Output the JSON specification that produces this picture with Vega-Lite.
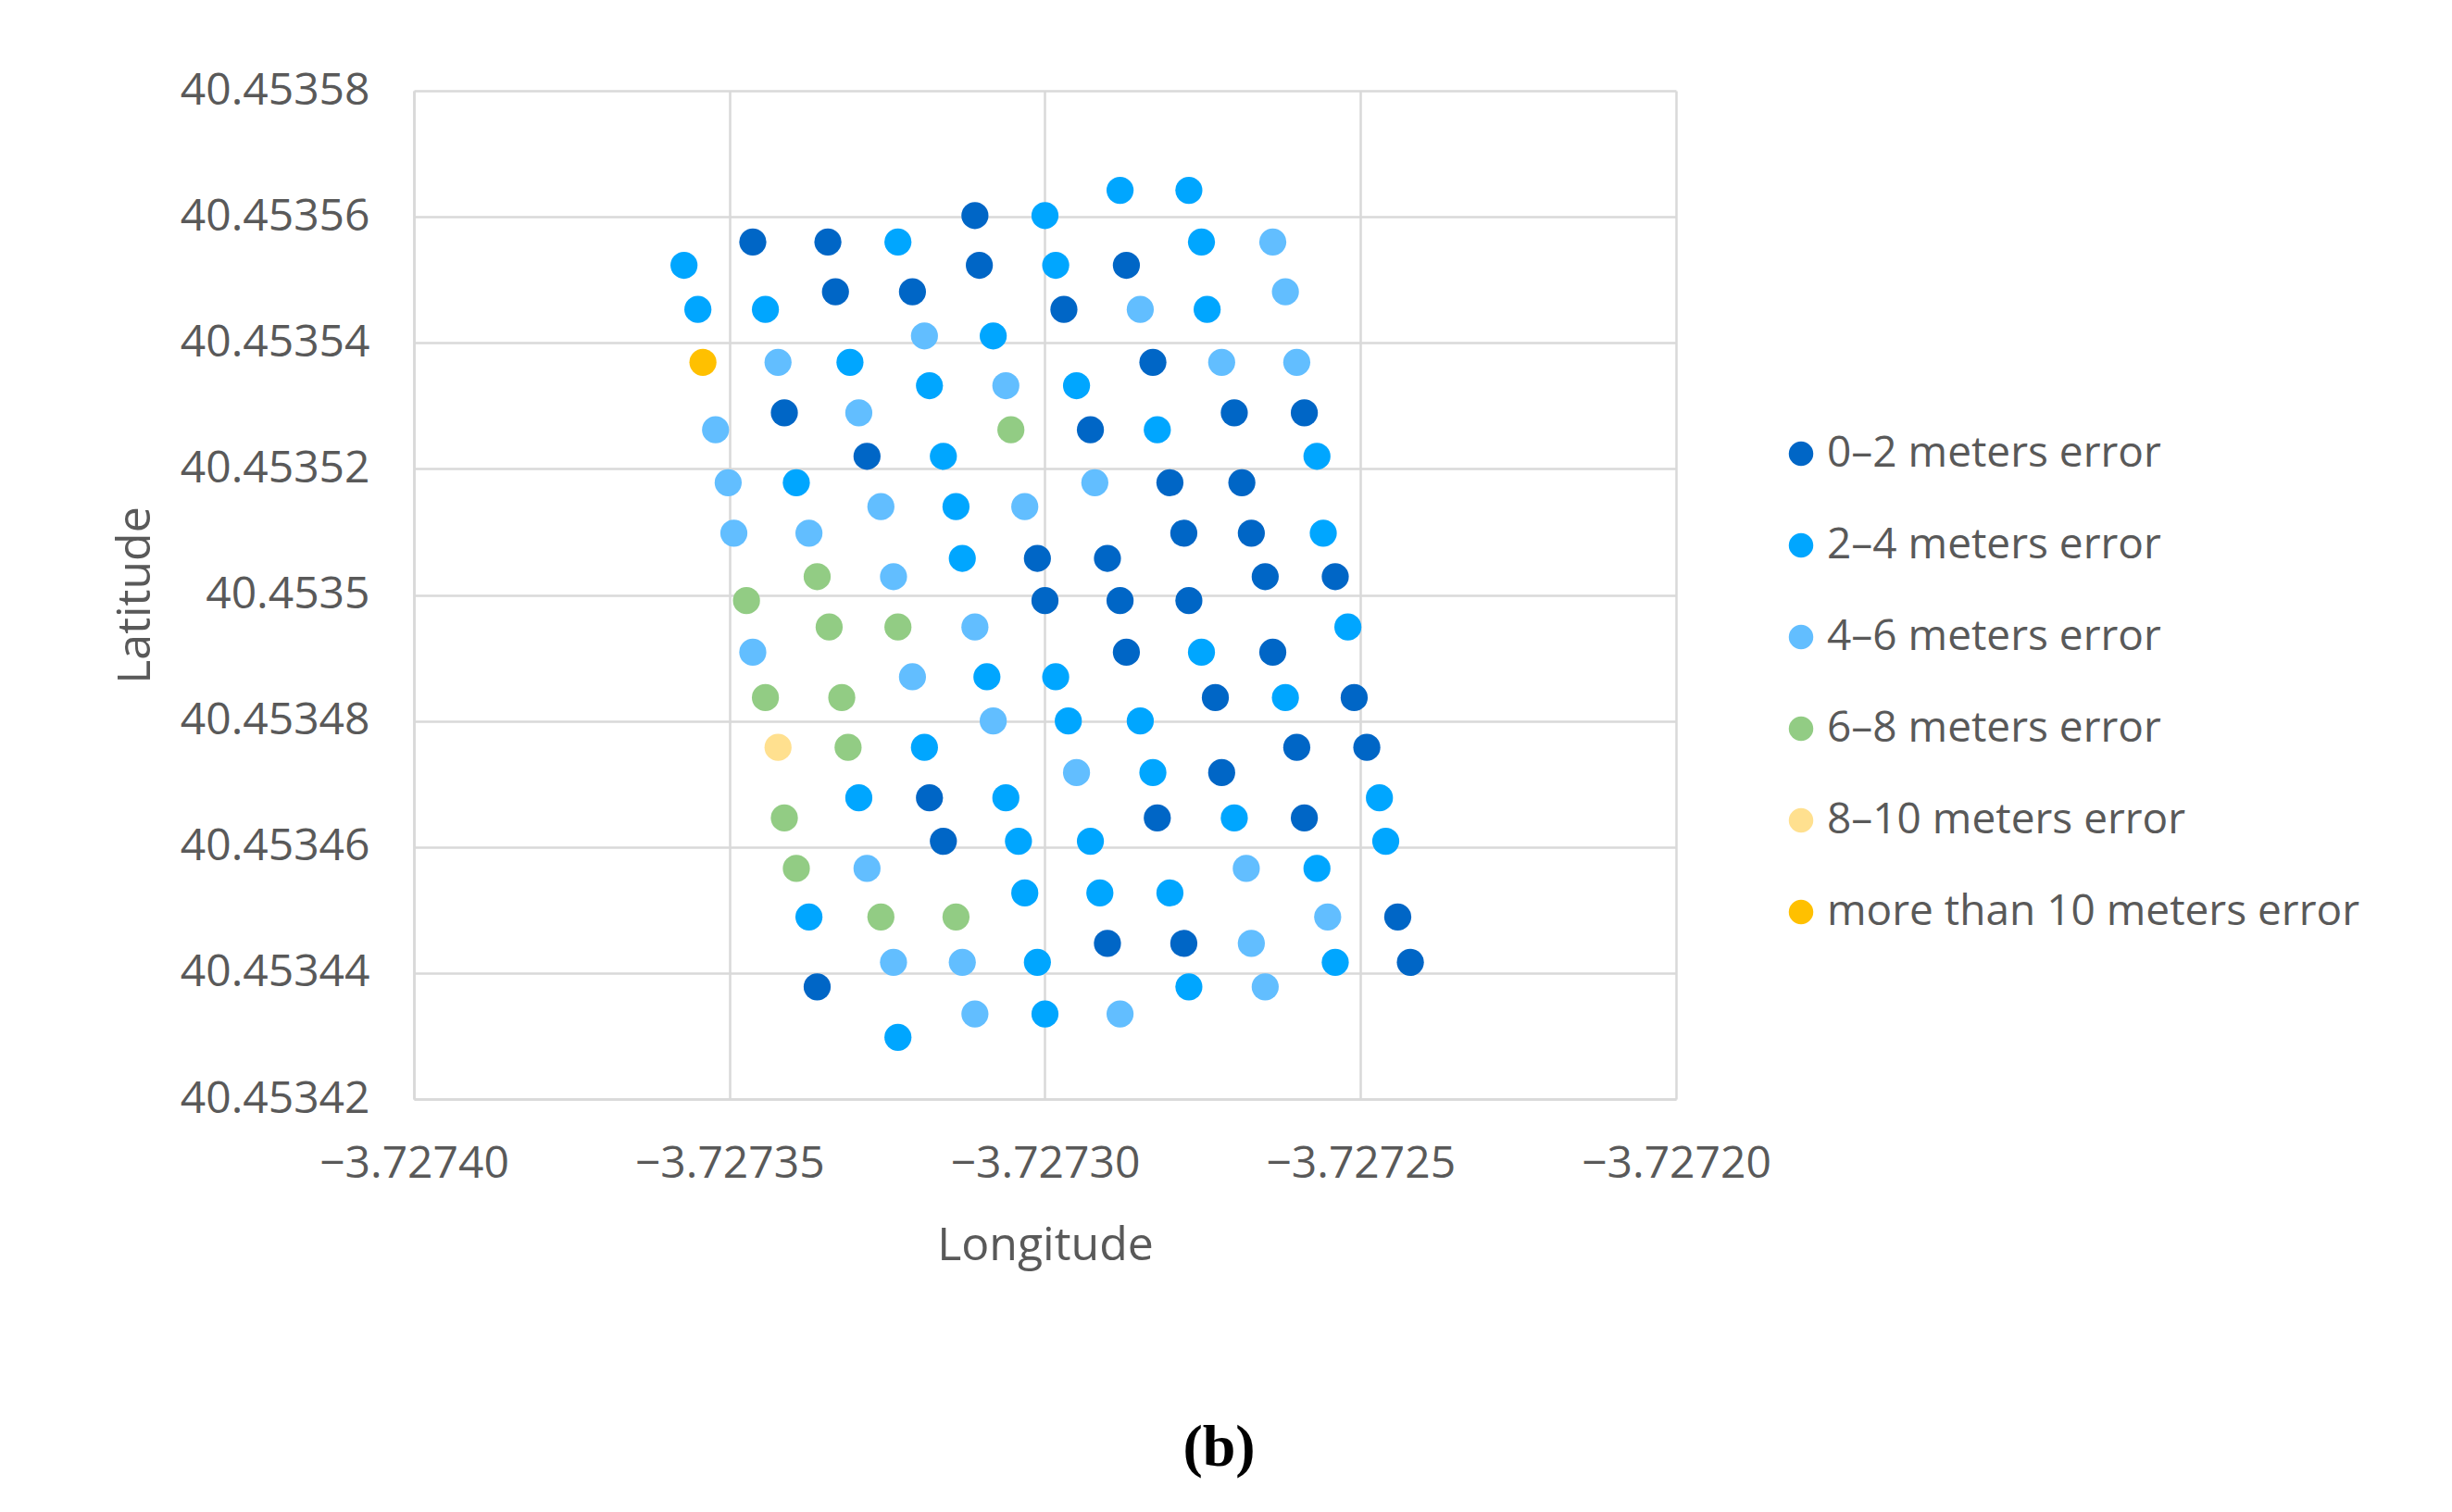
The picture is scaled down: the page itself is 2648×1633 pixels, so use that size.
{
  "$schema": "https://vega.github.io/schema/vega-lite/v6.json",
  "autosize": {"type": "none"},
  "width": 1363,
  "height": 1089,
  "padding": {"left": 447, "top": 98, "right": 838, "bottom": 446},
  "background": "white",
  "config": {
    "font": "Open Sans",
    "view": {"stroke": null},
    "axis": {
      "gridColor": "#D9D9D9",
      "gridWidth": 2.5,
      "domainColor": "#D9D9D9",
      "domainWidth": 2.5,
      "ticks": false,
      "tickSize": 0,
      "labelColor": "#595959",
      "labelFontSize": 48,
      "labelFont": "Open Sans",
      "labelLimit": 0,
      "labelFlush": false,
      "labelOverlap": false,
      "titleColor": "#595959",
      "titleFontSize": 50,
      "titleFontWeight": "normal",
      "titleFont": "Open Sans"
    }
  },
  "title": {
    "text": "(b)",
    "orient": "bottom",
    "frame": "group",
    "anchor": "middle",
    "dx": 188,
    "offset": 162,
    "font": "Liberation Serif",
    "fontSize": 64,
    "fontWeight": "bold",
    "color": "#000000"
  },
  "data": {
    "values": [
      {"lon": -3.7272881, "lat": 40.4535642, "error": "2–4"},
      {"lon": -3.7272772, "lat": 40.4535642, "error": "2–4"},
      {"lon": -3.7273111, "lat": 40.4535602, "error": "0–2"},
      {"lon": -3.7273000, "lat": 40.4535602, "error": "2–4"},
      {"lon": -3.7273463, "lat": 40.4535560, "error": "0–2"},
      {"lon": -3.7273344, "lat": 40.4535560, "error": "0–2"},
      {"lon": -3.7273233, "lat": 40.4535560, "error": "2–4"},
      {"lon": -3.7272752, "lat": 40.4535560, "error": "2–4"},
      {"lon": -3.7272639, "lat": 40.4535560, "error": "4–6"},
      {"lon": -3.7273572, "lat": 40.4535523, "error": "2–4"},
      {"lon": -3.7273104, "lat": 40.4535523, "error": "0–2"},
      {"lon": -3.7272983, "lat": 40.4535523, "error": "2–4"},
      {"lon": -3.7272871, "lat": 40.4535523, "error": "0–2"},
      {"lon": -3.7273332, "lat": 40.4535481, "error": "0–2"},
      {"lon": -3.7273210, "lat": 40.4535481, "error": "0–2"},
      {"lon": -3.7272619, "lat": 40.4535481, "error": "4–6"},
      {"lon": -3.7273550, "lat": 40.4535453, "error": "2–4"},
      {"lon": -3.7273443, "lat": 40.4535453, "error": "2–4"},
      {"lon": -3.7272970, "lat": 40.4535453, "error": "0–2"},
      {"lon": -3.7272849, "lat": 40.4535453, "error": "4–6"},
      {"lon": -3.7272743, "lat": 40.4535453, "error": "2–4"},
      {"lon": -3.7273191, "lat": 40.4535411, "error": "4–6"},
      {"lon": -3.7273082, "lat": 40.4535411, "error": "2–4"},
      {"lon": -3.7273542, "lat": 40.4535369, "error": "more than 10"},
      {"lon": -3.7273423, "lat": 40.4535369, "error": "4–6"},
      {"lon": -3.7273309, "lat": 40.4535369, "error": "2–4"},
      {"lon": -3.7272829, "lat": 40.4535369, "error": "0–2"},
      {"lon": -3.7272720, "lat": 40.4535369, "error": "4–6"},
      {"lon": -3.7272601, "lat": 40.4535369, "error": "4–6"},
      {"lon": -3.7273183, "lat": 40.4535332, "error": "2–4"},
      {"lon": -3.7273062, "lat": 40.4535332, "error": "4–6"},
      {"lon": -3.7272950, "lat": 40.4535332, "error": "2–4"},
      {"lon": -3.7273413, "lat": 40.4535289, "error": "0–2"},
      {"lon": -3.7273295, "lat": 40.4535289, "error": "4–6"},
      {"lon": -3.7272700, "lat": 40.4535289, "error": "0–2"},
      {"lon": -3.7272589, "lat": 40.4535289, "error": "0–2"},
      {"lon": -3.7273522, "lat": 40.4535262, "error": "4–6"},
      {"lon": -3.7273054, "lat": 40.4535262, "error": "6–8"},
      {"lon": -3.7272928, "lat": 40.4535262, "error": "0–2"},
      {"lon": -3.7272822, "lat": 40.4535262, "error": "2–4"},
      {"lon": -3.7273282, "lat": 40.4535220, "error": "0–2"},
      {"lon": -3.7273161, "lat": 40.4535220, "error": "2–4"},
      {"lon": -3.7272569, "lat": 40.4535220, "error": "2–4"},
      {"lon": -3.7273502, "lat": 40.4535178, "error": "4–6"},
      {"lon": -3.7273394, "lat": 40.4535178, "error": "2–4"},
      {"lon": -3.7272921, "lat": 40.4535178, "error": "4–6"},
      {"lon": -3.7272802, "lat": 40.4535178, "error": "0–2"},
      {"lon": -3.7272688, "lat": 40.4535178, "error": "0–2"},
      {"lon": -3.7273260, "lat": 40.4535140, "error": "4–6"},
      {"lon": -3.7273141, "lat": 40.4535140, "error": "2–4"},
      {"lon": -3.7273032, "lat": 40.4535140, "error": "4–6"},
      {"lon": -3.7273493, "lat": 40.4535098, "error": "4–6"},
      {"lon": -3.7273374, "lat": 40.4535098, "error": "4–6"},
      {"lon": -3.7272780, "lat": 40.4535098, "error": "0–2"},
      {"lon": -3.7272673, "lat": 40.4535098, "error": "0–2"},
      {"lon": -3.7272559, "lat": 40.4535098, "error": "2–4"},
      {"lon": -3.7273131, "lat": 40.4535058, "error": "2–4"},
      {"lon": -3.7273012, "lat": 40.4535058, "error": "0–2"},
      {"lon": -3.7272901, "lat": 40.4535058, "error": "0–2"},
      {"lon": -3.7273361, "lat": 40.4535029, "error": "6–8"},
      {"lon": -3.7273240, "lat": 40.4535029, "error": "4–6"},
      {"lon": -3.7272651, "lat": 40.4535029, "error": "0–2"},
      {"lon": -3.7272540, "lat": 40.4535029, "error": "0–2"},
      {"lon": -3.7273473, "lat": 40.4534991, "error": "6–8"},
      {"lon": -3.7273000, "lat": 40.4534991, "error": "0–2"},
      {"lon": -3.7272881, "lat": 40.4534991, "error": "0–2"},
      {"lon": -3.7272772, "lat": 40.4534991, "error": "0–2"},
      {"lon": -3.7273342, "lat": 40.4534949, "error": "6–8"},
      {"lon": -3.7273233, "lat": 40.4534949, "error": "6–8"},
      {"lon": -3.7273111, "lat": 40.4534949, "error": "4–6"},
      {"lon": -3.7272520, "lat": 40.4534949, "error": "2–4"},
      {"lon": -3.7273463, "lat": 40.4534909, "error": "4–6"},
      {"lon": -3.7272871, "lat": 40.4534909, "error": "0–2"},
      {"lon": -3.7272752, "lat": 40.4534909, "error": "2–4"},
      {"lon": -3.7272639, "lat": 40.4534909, "error": "0–2"},
      {"lon": -3.7273210, "lat": 40.4534870, "error": "4–6"},
      {"lon": -3.7273092, "lat": 40.4534870, "error": "2–4"},
      {"lon": -3.7272983, "lat": 40.4534870, "error": "2–4"},
      {"lon": -3.7273443, "lat": 40.4534837, "error": "6–8"},
      {"lon": -3.7273322, "lat": 40.4534837, "error": "6–8"},
      {"lon": -3.7272730, "lat": 40.4534837, "error": "0–2"},
      {"lon": -3.7272619, "lat": 40.4534837, "error": "2–4"},
      {"lon": -3.7272510, "lat": 40.4534837, "error": "0–2"},
      {"lon": -3.7273082, "lat": 40.4534800, "error": "4–6"},
      {"lon": -3.7272963, "lat": 40.4534800, "error": "2–4"},
      {"lon": -3.7272849, "lat": 40.4534800, "error": "2–4"},
      {"lon": -3.7273423, "lat": 40.4534758, "error": "8–10"},
      {"lon": -3.7273312, "lat": 40.4534758, "error": "6–8"},
      {"lon": -3.7273191, "lat": 40.4534758, "error": "2–4"},
      {"lon": -3.7272601, "lat": 40.4534758, "error": "0–2"},
      {"lon": -3.7272490, "lat": 40.4534758, "error": "0–2"},
      {"lon": -3.7272950, "lat": 40.4534718, "error": "4–6"},
      {"lon": -3.7272829, "lat": 40.4534718, "error": "2–4"},
      {"lon": -3.7272720, "lat": 40.4534718, "error": "0–2"},
      {"lon": -3.7273295, "lat": 40.4534678, "error": "2–4"},
      {"lon": -3.7273183, "lat": 40.4534678, "error": "0–2"},
      {"lon": -3.7273062, "lat": 40.4534678, "error": "2–4"},
      {"lon": -3.7272470, "lat": 40.4534678, "error": "2–4"},
      {"lon": -3.7273413, "lat": 40.4534646, "error": "6–8"},
      {"lon": -3.7272822, "lat": 40.4534646, "error": "0–2"},
      {"lon": -3.7272700, "lat": 40.4534646, "error": "2–4"},
      {"lon": -3.7272589, "lat": 40.4534646, "error": "0–2"},
      {"lon": -3.7273161, "lat": 40.4534609, "error": "0–2"},
      {"lon": -3.7273042, "lat": 40.4534609, "error": "2–4"},
      {"lon": -3.7272928, "lat": 40.4534609, "error": "2–4"},
      {"lon": -3.7272460, "lat": 40.4534609, "error": "2–4"},
      {"lon": -3.7273394, "lat": 40.4534566, "error": "6–8"},
      {"lon": -3.7273282, "lat": 40.4534566, "error": "4–6"},
      {"lon": -3.7272681, "lat": 40.4534566, "error": "4–6"},
      {"lon": -3.7272569, "lat": 40.4534566, "error": "2–4"},
      {"lon": -3.7273032, "lat": 40.4534527, "error": "2–4"},
      {"lon": -3.7272913, "lat": 40.4534527, "error": "2–4"},
      {"lon": -3.7272802, "lat": 40.4534527, "error": "2–4"},
      {"lon": -3.7273374, "lat": 40.4534489, "error": "2–4"},
      {"lon": -3.7273260, "lat": 40.4534489, "error": "6–8"},
      {"lon": -3.7273141, "lat": 40.4534489, "error": "6–8"},
      {"lon": -3.7272552, "lat": 40.4534489, "error": "4–6"},
      {"lon": -3.7272441, "lat": 40.4534489, "error": "0–2"},
      {"lon": -3.7272901, "lat": 40.4534447, "error": "0–2"},
      {"lon": -3.7272780, "lat": 40.4534447, "error": "0–2"},
      {"lon": -3.7272673, "lat": 40.4534447, "error": "4–6"},
      {"lon": -3.7273240, "lat": 40.4534417, "error": "4–6"},
      {"lon": -3.7273131, "lat": 40.4534417, "error": "4–6"},
      {"lon": -3.7273012, "lat": 40.4534417, "error": "2–4"},
      {"lon": -3.7272540, "lat": 40.4534417, "error": "2–4"},
      {"lon": -3.7272421, "lat": 40.4534417, "error": "0–2"},
      {"lon": -3.7273361, "lat": 40.4534378, "error": "0–2"},
      {"lon": -3.7272772, "lat": 40.4534378, "error": "2–4"},
      {"lon": -3.7272651, "lat": 40.4534378, "error": "4–6"},
      {"lon": -3.7273111, "lat": 40.4534335, "error": "4–6"},
      {"lon": -3.7273000, "lat": 40.4534335, "error": "2–4"},
      {"lon": -3.7272881, "lat": 40.4534335, "error": "4–6"},
      {"lon": -3.7273233, "lat": 40.4534298, "error": "2–4"}
    ]
  },
  "mark": {"type": "point", "shape": "circle", "filled": true, "opacity": 1, "size": 855, "strokeWidth": 0},
  "encoding": {
    "x": {
      "field": "lon",
      "type": "quantitative",
      "title": "Longitude",
      "scale": {"domain": [-3.7274, -3.7272], "nice": false, "zero": false},
      "axis": {
        "values": [-3.7274, -3.72735, -3.7273, -3.72725, -3.7272],
        "format": ".5f",
        "labelPadding": 46,
        "titlePadding": 39
      }
    },
    "y": {
      "field": "lat",
      "type": "quantitative",
      "title": "Latitude",
      "scale": {"domain": [40.45342, 40.45358], "nice": false, "zero": false},
      "axis": {
        "values": [40.45342, 40.45344, 40.45346, 40.45348, 40.4535, 40.45352, 40.45354, 40.45356, 40.45358],
        "format": ".5~f",
        "labelPadding": 48,
        "titlePadding": 76
      }
    },
    "color": {
      "field": "error",
      "type": "nominal",
      "scale": {
        "domain": ["0–2", "2–4", "4–6", "6–8", "8–10", "more than 10"],
        "range": ["#0066C6", "#00A6FF", "#62BEFF", "#92CC84", "#FFE08F", "#FFC000"]
      },
      "legend": {
        "title": null,
        "orient": "none",
        "legendX": 1475,
        "legendY": 369,
        "symbolType": "circle",
        "symbolSize": 700,
        "symbolStrokeWidth": 0,
        "labelFontSize": 46,
        "labelColor": "#595959",
        "labelFont": "Open Sans",
        "labelOffset": 5,
        "labelLimit": 0,
        "rowPadding": 53,
        "labelExpr": "datum.label + ' meters error'"
      }
    }
  }
}
